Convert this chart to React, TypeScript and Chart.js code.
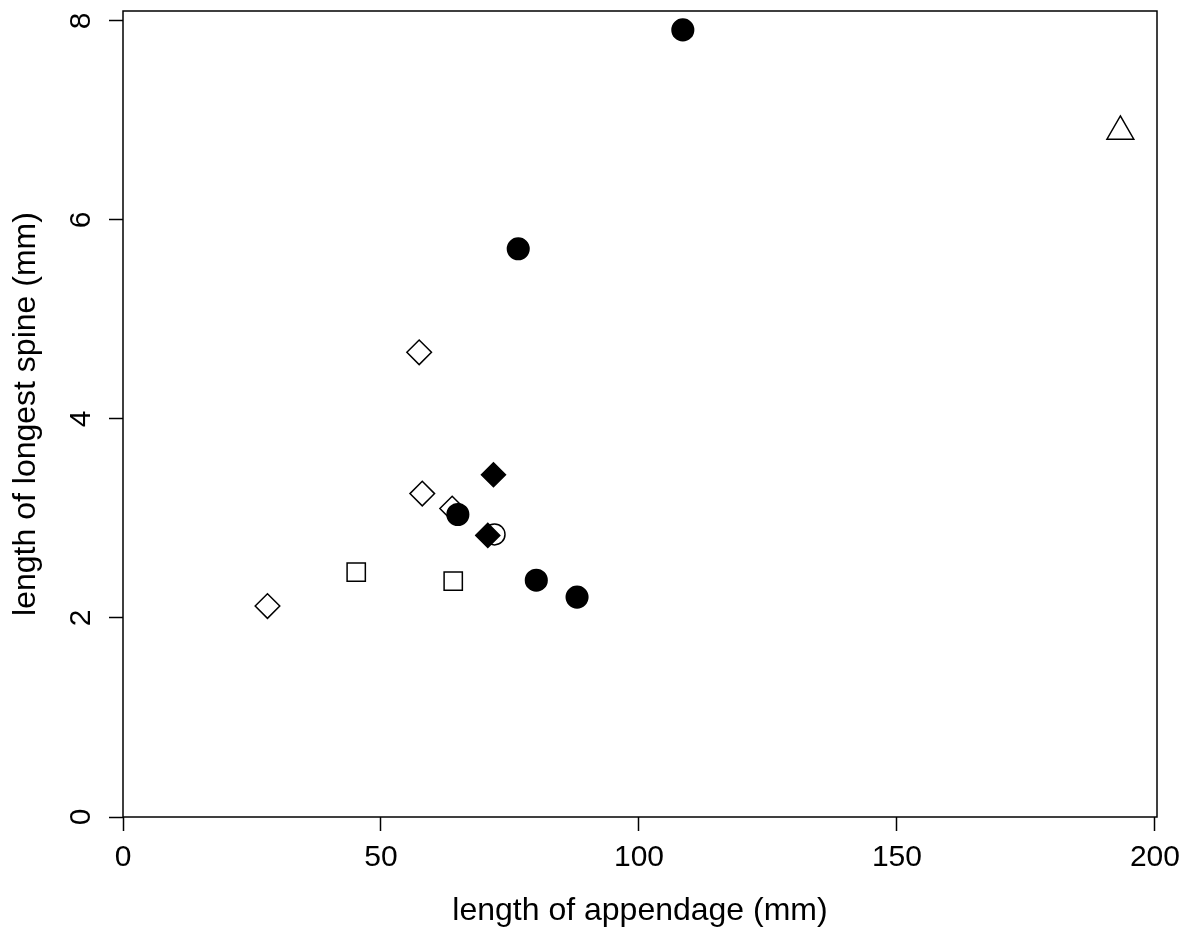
import React, { useEffect, useRef } from "react";
import { Chart, registerables } from "chart.js";

Chart.register(...registerables);

const FONT = '"Liberation Sans", Arial, Helvetica, sans-serif';

const xTicks = [0, 50, 100, 150, 200];
const yTicks = [0, 2, 4, 6, 8];
const xTitle = "length of appendage (mm)";
const yTitle = "length of longest spine (mm)";

const filledDiamondX = [71.8, 70.7];
const filledDiamondY = [3.44, 2.83];

const filledCircleX = [108.5, 76.6, 64.9, 80.1, 88.0];
const filledCircleY = [7.91, 5.71, 3.04, 2.38, 2.21];

const openCircleX = [72.0];
const openCircleY = [2.84];

const openDiamondX = [57.4, 58.0, 63.8, 28.0];
const openDiamondY = [4.67, 3.25, 3.1, 2.12];

const openSquareX = [45.2, 64.0];
const openSquareY = [2.46, 2.37];

const openTriangleX = [193.3];
const openTriangleY = [6.89];

const pts = (xs: number[], ys: number[]) => xs.map((x, i) => ({ x, y: ys[i] }));

const framePlugin = {
  id: "frame",
  afterDraw(chart: any) {
    const { ctx, chartArea } = chart;
    const { left, top, right, bottom } = chartArea;
    ctx.save();
    ctx.strokeStyle = "#000";
    ctx.lineWidth = 1.5;
    ctx.strokeRect(left, top, right - left, bottom - top);
    const ys = chart.scales.y;
    ctx.font = `30px ${FONT}`;
    ctx.fillStyle = "#000";
    ctx.textAlign = "center";
    ctx.textBaseline = "alphabetic";
    yTicks.forEach((v) => {
      const py = ys.getPixelForValue(v);
      ctx.save();
      ctx.translate(90, py);
      ctx.rotate(-Math.PI / 2);
      ctx.fillText(String(v), 0, 0);
      ctx.restore();
    });
    ctx.restore();
  },
};

export default function App() {
  const ref = useRef<HTMLCanvasElement | null>(null);

  useEffect(() => {
    document.body.style.margin = "0";
    const canvas = ref.current;
    if (!canvas) return;
    const hollow = "rgba(0,0,0,0)";
    const chart = new Chart(canvas, {
      type: "scatter",
      data: {
        datasets: [
          {
            label: "filled diamond",
            data: pts(filledDiamondX, filledDiamondY),
            pointStyle: "rectRot",
            pointRadius: 12,
            pointBackgroundColor: "#000",
            pointBorderColor: "#000",
            pointBorderWidth: 1.5,
          },
          {
            label: "filled circle",
            data: pts(filledCircleX, filledCircleY),
            pointStyle: "circle",
            pointRadius: 10.8,
            pointBackgroundColor: "#000",
            pointBorderColor: "#000",
            pointBorderWidth: 1.5,
          },
          {
            label: "open circle",
            data: pts(openCircleX, openCircleY),
            pointStyle: "circle",
            pointRadius: 10.5,
            pointBackgroundColor: hollow,
            pointBorderColor: "#000",
            pointBorderWidth: 1.5,
          },
          {
            label: "open diamond",
            data: pts(openDiamondX, openDiamondY),
            pointStyle: "rectRot",
            pointRadius: 12.3,
            pointBackgroundColor: hollow,
            pointBorderColor: "#000",
            pointBorderWidth: 1.5,
          },
          {
            label: "open square",
            data: pts(openSquareX, openSquareY),
            pointStyle: "rect",
            pointRadius: 12.9,
            pointBackgroundColor: hollow,
            pointBorderColor: "#000",
            pointBorderWidth: 1.5,
          },
          {
            label: "open triangle",
            data: pts(openTriangleX, openTriangleY),
            pointStyle: "triangle",
            pointRadius: 15.5,
            pointBackgroundColor: hollow,
            pointBorderColor: "#000",
            pointBorderWidth: 1.5,
          },
        ],
      },
      options: {
        animation: false,
        responsive: false,
        maintainAspectRatio: false,
        devicePixelRatio: 1,
        layout: { autoPadding: false, padding: { top: 11, right: 36, left: 0, bottom: 0 } },
        plugins: {
          legend: { display: false },
          tooltip: { enabled: false },
        },
        scales: {
          x: {
            type: "linear",
            position: "bottom",
            min: 0,
            max: 200.4,
            afterBuildTicks: (s: any) => {
              s.ticks = xTicks.map((v) => ({ value: v }));
            },
            afterFit: (s: any) => {
              s.height = 117;
              s.paddingTop = 0;
              s.paddingBottom = 0;
              s.paddingLeft = 0;
              s.paddingRight = 0;
            },
            grid: {
              drawOnChartArea: false,
              drawTicks: true,
              tickLength: 14,
              tickWidth: 1.5,
              tickColor: "#000",
            },
            border: { display: false },
            ticks: {
              padding: 9,
              color: "#000",
              font: { family: FONT, size: 30 },
              maxRotation: 0,
              minRotation: 0,
              autoSkip: false,
              callback: (v: any) => String(v),
            },
            title: {
              display: true,
              text: xTitle,
              color: "#000",
              font: { family: FONT, size: 32 },
              padding: { top: 0, bottom: 4 },
            },
          },
          y: {
            type: "linear",
            position: "left",
            min: 0,
            max: 8.1,
            afterBuildTicks: (s: any) => {
              s.ticks = yTicks.map((v) => ({ value: v }));
            },
            afterFit: (s: any) => {
              s.width = 123;
              s.paddingTop = 0;
              s.paddingBottom = 0;
              s.paddingLeft = 0;
              s.paddingRight = 0;
            },
            grid: {
              drawOnChartArea: false,
              drawTicks: true,
              tickLength: 14,
              tickWidth: 1.5,
              tickColor: "#000",
            },
            border: { display: false },
            ticks: { display: false },
            title: {
              display: true,
              text: yTitle,
              color: "#000",
              font: { family: FONT, size: 32 },
              padding: { top: 7, bottom: 0 },
            },
          },
        },
      },
      plugins: [framePlugin],
    } as any);
    return () => chart.destroy();
  }, []);

  return (
    <div style={{ position: "absolute", left: 0, top: 0, width: 1193, height: 934, background: "#fff" }}>
      <canvas ref={ref} width={1193} height={934} style={{ display: "block" }} />
    </div>
  );
}
